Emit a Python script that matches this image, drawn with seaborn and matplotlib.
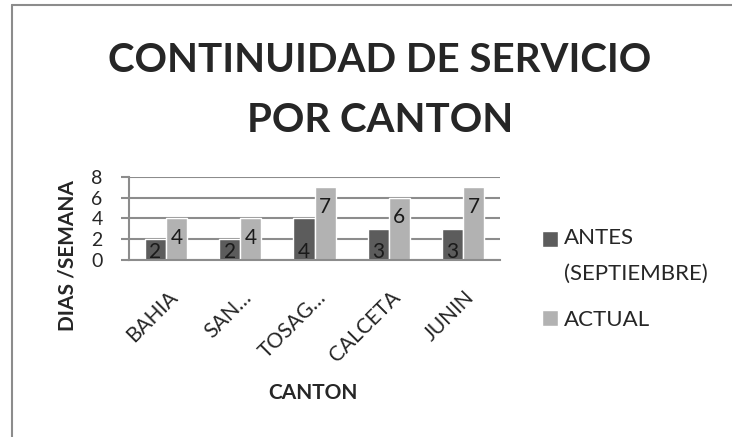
import matplotlib
matplotlib.use("Agg")
import matplotlib.pyplot as plt
import matplotlib.patches as mpatches
import matplotlib.transforms as mtransforms
from matplotlib.legend_handler import HandlerPatch
from matplotlib.lines import Line2D
import seaborn as sns
import pandas as pd

cantones = ["BAHIA", "SAN…", "TOSAG…", "CALCETA", "JUNIN"]
antes = [2, 2, 4, 3, 3]
actual = [4, 4, 7, 6, 7]
series = ["ANTES\n(SEPTIEMBRE)", "ACTUAL"]

df = pd.DataFrame({
    "canton": cantones * 2,
    "serie": [series[0]] * len(cantones) + [series[1]] * len(cantones),
    "dias": antes + actual,
})

sns.set_style("white")
plt.rcParams["font.family"] = ["Lato", "DejaVu Sans"]

W, H = 732, 437
fig = plt.figure(figsize=(W / 100, H / 100), dpi=100)
# plot area measured in pixels from the reference
ax = fig.add_axes([129 / W, 1 - 260 / H, (500 - 129) / W, (260 - 177) / H])

sns.barplot(data=df, x="canton", y="dias", hue="serie", order=cantones,
            hue_order=series, palette=["#5c5c5c", "#b2b2b2"], width=0.57,
            saturation=1, ax=ax, legend=True)

ax.set_ylim(0, 8)
ax.set_yticks([0, 2, 4, 6, 8])
ax.yaxis.grid(True, color="#8c8c8c", linewidth=1.5)
ax.set_axisbelow(True)
for s in ["top", "right"]:
    ax.spines[s].set_visible(False)
for s in ["left", "bottom"]:
    ax.spines[s].set_color("#8c8c8c")
    ax.spines[s].set_linewidth(1.5)
ax.tick_params(axis="y", left=True, length=6, width=1.5, color="#8c8c8c",
               labelsize=14, pad=13)
ax.tick_params(axis="x", bottom=False, labelsize=15, pad=21)
shift = mtransforms.ScaledTranslation(6 / 72, 0, fig.dpi_scale_trans)
for lab in ax.get_xticklabels():
    lab.set_rotation(45)
    lab.set_ha("right")
    lab.set_va("center")
    lab.set_rotation_mode("anchor")
    lab.set_transform(lab.get_transform() + shift)

# data labels: dark series at the base, light series just inside the top
for p, v in zip(ax.containers[0], antes):
    ax.annotate(str(v), (p.get_x() + p.get_width() / 2, 0), xytext=(0, 1.5),
                textcoords="offset points", ha="center", va="baseline",
                fontsize=15, color="#1a1a1a")
for p, v in zip(ax.containers[1], actual):
    ax.annotate(str(v), (p.get_x() + p.get_width() / 2, v), xytext=(0, -7),
                textcoords="offset points", ha="center", va="top",
                fontsize=15, color="#1a1a1a")

ax.set_ylabel("DIAS /SEMANA", fontsize=15, fontweight="bold")
ax.yaxis.set_label_coords((77 - 129) / (500 - 129), (260 - 256) / (260 - 177))
ax.set_xlabel("CANTON", fontsize=15, fontweight="bold")
ax.xaxis.label.set_va("center")
ax.xaxis.set_label_coords((313 - 129) / (500 - 129), -(393 - 260) / (260 - 177))


def top_patch(legend, orig_handle, xdescent, ydescent, width, height, fontsize):
    # align the square with the first line of the two-line label
    return mpatches.Rectangle((-xdescent, -ydescent + 12.6), width, height)


handles, labels = ax.get_legend_handles_labels()
leg = ax.legend(handles, labels, loc="upper left", bbox_to_anchor=(542 / W, 1 - 228 / H),
                bbox_transform=fig.transFigure, frameon=False, fontsize=16,
                handlelength=0.7, handleheight=0.7, handletextpad=0.3,
                labelspacing=1.15, borderpad=0, borderaxespad=0,
                handler_map={handles[0]: HandlerPatch(patch_func=top_patch)})
leg.get_texts()[0].set_linespacing(2.0)

fig.text(380 / W, 1 - 72 / H, "CONTINUIDAD DE SERVICIO", ha="center", va="baseline",
         fontsize=29, fontweight="bold")
fig.text(380 / W, 1 - 132 / H, "POR CANTON", ha="center", va="baseline",
         fontsize=29, fontweight="bold")

fig.add_artist(Line2D([12 / W, 12 / W], [0, 1 - 5 / H], color="#8c8c8c", linewidth=1.5))
fig.add_artist(Line2D([12 / W, 1], [1 - 5 / H, 1 - 5 / H], color="#8c8c8c", linewidth=1.5))

fig.savefig("out.png", dpi=100)
